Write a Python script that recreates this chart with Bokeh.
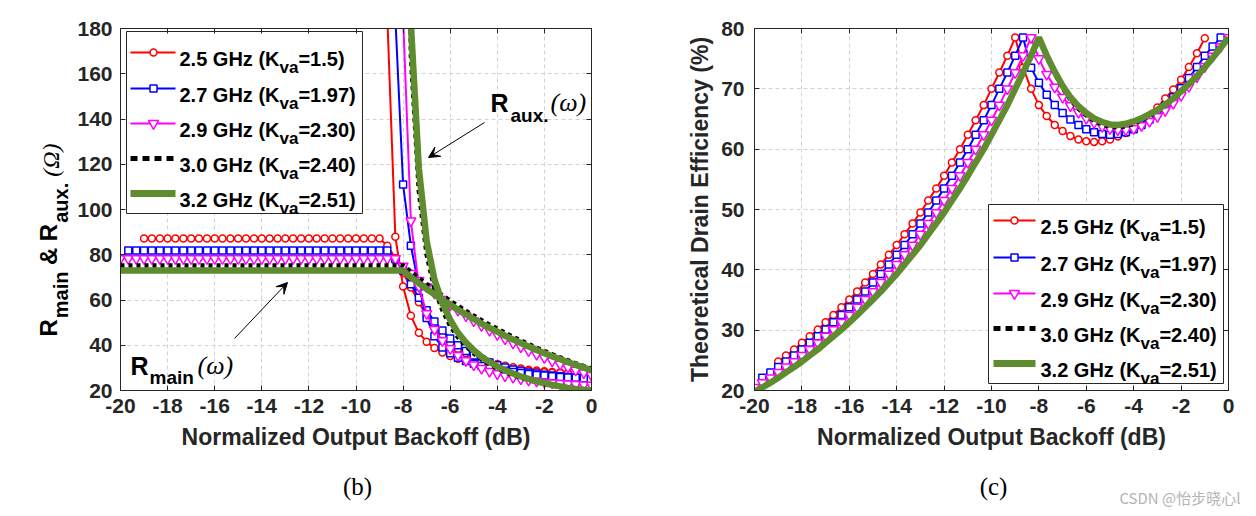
import math
from bokeh.plotting import figure
from bokeh.models import Label, Arrow, VeeHead, LinearAxis, FixedTicker, Range1d
from bokeh.layouts import row, column
from bokeh.embed import file_html
from bokeh.resources import INLINE

nan = float("nan")

# ---------------- data ----------------
X = [-20.0, -19.67, -19.33, -19.0, -18.67, -18.33, -18.0, -17.67, -17.33, -17.0,
     -16.67, -16.33, -16.0, -15.67, -15.33, -15.0, -14.67, -14.33, -14.0, -13.67,
     -13.33, -13.0, -12.67, -12.33, -12.0, -11.67, -11.33, -11.0, -10.67, -10.33,
     -10.0, -9.67, -9.33, -9.0, -8.67, -8.33, -8.0, -7.67, -7.33, -7.0,
     -6.67, -6.33, -6.0, -5.67, -5.33, -5.0, -4.67, -4.33, -4.0, -3.67,
     -3.33, -3.0, -2.67, -2.33, -2.0, -1.67, -1.33, -1.0, -0.67, -0.33, 0.0]

FREQS = ["2.5 GHz", "2.7 GHz", "2.9 GHz", "3.0 GHz", "3.2 GHz"]
KVA = ["1.5", "1.97", "2.30", "2.40", "2.51"]

X_TICKS = [-20, -18, -16, -14, -12, -10, -8, -6, -4, -2, 0]
YB_TICKS = [20, 40, 60, 80, 100, 120, 140, 160, 180]
YC_TICKS = [20, 30, 40, 50, 60, 70, 80]

# (b) R_main and R_aux (Ohm)
RM_25 = [nan, nan, nan,
         87.2, 87.2, 87.2, 87.2, 87.2, 87.2, 87.2, 87.2, 87.2, 87.2,
         87.2, 87.2, 87.2, 87.2, 87.2, 87.2, 87.2, 87.2, 87.2, 87.2,
         87.2, 87.2, 87.2, 87.2, 87.2, 87.2, 87.2, 87.2, 87.2, 87.2, 87.2,
         84.0, 78.5, 72.0, 65.5, 59.0, 53.0, 48.0, 44.0, 41.0, 38.5,
         36.5, 35.0, 33.7, 32.6, 31.7, 30.9, 30.3, 29.7, 29.2, 28.8,
         28.5, 28.2, 28.0, 27.8, nan, nan, nan]
RA_25 = [nan, nan, nan, nan, nan, nan, nan, nan, nan, nan,
         nan, nan, nan, nan, nan, nan, nan, nan, nan, nan,
         nan, nan, nan, nan, nan, nan, nan, nan, nan, nan,
         nan, nan, nan, nan,
         185.0, 88.0, 66.0, 53.0, 45.5, 41.5, 38.8, 36.8, 35.2, 34.0,
         33.0, 32.1, 31.4, 30.8, 30.2, 29.7, 29.3, 28.9, 28.6, 28.3,
         28.1, 27.9, 27.7, 27.5, nan, nan, nan]
RM_27 = [nan,
         81.9, 81.9, 81.9, 81.9, 81.9, 81.9, 81.9, 81.9, 81.9, 81.9,
         81.9, 81.9, 81.9, 81.9, 81.9, 81.9, 81.9, 81.9, 81.9, 81.9,
         81.9, 81.9, 81.9, 81.9, 81.9, 81.9, 81.9, 81.9, 81.9, 81.9,
         81.9, 81.9, 81.9, 81.9,
         78.0, 73.0, 67.0, 61.0, 55.5, 50.5, 46.5, 43.0, 40.0, 37.5,
         35.5, 33.8, 32.4, 31.2, 30.2, 29.3, 28.6, 28.0, 27.5, 27.0,
         26.6, 26.3, 26.0, 25.7, 25.5, nan]
RA_27 = [nan, nan, nan, nan, nan, nan, nan, nan, nan, nan,
         nan, nan, nan, nan, nan, nan, nan, nan, nan, nan,
         nan, nan, nan, nan, nan, nan, nan, nan, nan, nan,
         nan, nan, nan, nan, nan,
         185.0, 111.0, 84.0, 66.0, 52.0, 44.0, 39.0, 36.5, 34.5, 33.0,
         31.8, 30.8, 30.0, 29.3, 28.7, 28.2, 27.7, 27.3, 26.9, 26.6,
         26.3, 26.0, 25.8, 25.6, 25.4, nan]
RM_29 = [78.3, 78.3, 78.3, 78.3, 78.3, 78.3, 78.3, 78.3, 78.3, 78.3,
         78.3, 78.3, 78.3, 78.3, 78.3, 78.3, 78.3, 78.3, 78.3, 78.3,
         78.3, 78.3, 78.3, 78.3, 78.3, 78.3, 78.3, 78.3, 78.3, 78.3,
         78.3, 78.3, 78.3, 78.3, 78.3, 78.3,
         75.0, 71.8, 68.7, 65.8, 63.0, 60.3, 57.8, 55.4, 53.0, 50.8,
         48.7, 46.6, 44.7, 42.8, 41.0, 39.3, 37.6, 36.0, 34.5, 33.0,
         31.6, 30.3, 29.0, 27.8, 26.7]
RA_29 = [nan, nan, nan, nan, nan, nan, nan, nan, nan, nan,
         nan, nan, nan, nan, nan, nan, nan, nan, nan, nan,
         nan, nan, nan, nan, nan, nan, nan, nan, nan, nan,
         nan, nan, nan, nan, nan, nan,
         185.0, 95.0, 66.0, 54.0, 47.0, 42.0, 38.5, 35.5, 33.2, 31.3,
         29.8, 28.5, 27.4, 26.5, 25.8, 25.1, 24.6, 24.1, 23.7, 23.4,
         23.1, 22.9, 22.7, 22.5, 22.4]
RM_30 = [75.3, 75.3, 75.3, 75.3, 75.3, 75.3, 75.3, 75.3, 75.3, 75.3,
         75.3, 75.3, 75.3, 75.3, 75.3, 75.3, 75.3, 75.3, 75.3, 75.3,
         75.3, 75.3, 75.3, 75.3, 75.3, 75.3, 75.3, 75.3, 75.3, 75.3,
         75.3, 75.3, 75.3, 75.3, 75.3, 75.3, 75.3,
         72.5, 69.6, 67.0, 64.5, 62.0, 59.7, 57.4, 55.2, 53.1, 51.1,
         49.1, 47.3, 45.5, 43.7, 42.1, 40.5, 38.9, 37.4, 36.0, 34.6,
         33.3, 32.0, 30.8, 29.7]
RA_30 = [nan, nan, nan, nan, nan, nan, nan, nan, nan, nan,
         nan, nan, nan, nan, nan, nan, nan, nan, nan, nan,
         nan, nan, nan, nan, nan, nan, nan, nan, nan, nan,
         nan, nan, nan, nan, nan, nan,
         600.0, 168.0, 108.0, 80.0, 65.0, 55.5, 48.5, 43.5, 39.6, 36.4,
         33.7, 31.5, 29.7, 28.1, 26.8, 25.6, 24.6, 23.7, 22.9, 22.2,
         21.6, 21.1, 20.7, 20.4, 20.1]
RM_32 = [73.0, 73.0, 73.0, 73.0, 73.0, 73.0, 73.0, 73.0, 73.0, 73.0,
         73.0, 73.0, 73.0, 73.0, 73.0, 73.0, 73.0, 73.0, 73.0, 73.0,
         73.0, 73.0, 73.0, 73.0, 73.0, 73.0, 73.0, 73.0, 73.0, 73.0,
         73.0, 73.0, 73.0, 73.0, 73.0, 73.0, 73.0,
         70.1, 67.4, 64.9, 62.5, 60.1, 57.9, 55.7, 53.6, 51.6, 49.6,
         47.7, 46.0, 44.2, 42.5, 41.0, 39.4, 37.9, 36.5, 35.1, 33.8,
         32.5, 31.3, 30.1, 29.0]
RA_32 = [nan, nan, nan, nan, nan, nan, nan, nan, nan, nan,
         nan, nan, nan, nan, nan, nan, nan, nan, nan, nan,
         nan, nan, nan, nan, nan, nan, nan, nan, nan, nan,
         nan, nan, nan, nan, nan, nan, nan,
         182.0, 118.0, 86.0, 69.0, 58.5, 51.2, 45.5, 41.2, 37.8, 34.9,
         32.6, 30.7, 28.9, 27.5, 26.2, 25.1, 24.1, 23.3, 22.5, 21.8,
         21.1, 20.7, 20.3, 20.0]

# (c) theoretical drain efficiency (%)
EFF_25 = [nan, nan, nan,
          24.8, 25.8, 26.8, 27.9, 29.0, 30.1, 31.3, 32.5, 33.8, 35.1,
          36.4, 37.9, 39.3, 40.9, 42.5, 44.1, 45.9, 47.7, 49.5, 51.5,
          53.5, 55.6, 57.8, 60.0, 62.4, 64.8, 67.3, 70.0, 72.7, 75.5,
          78.5,
          73.5, 70.0, 67.3, 65.5, 64.0, 63.0, 62.2, 61.6, 61.3, 61.2,
          61.3, 61.6, 62.1, 62.7, 63.4, 64.3, 65.5, 66.9, 68.4, 69.9,
          71.5, 73.6, 75.9, 78.4, nan, nan, nan]
EFF_27 = [nan,
          22.1, 23.0, 23.9, 24.8, 25.8, 26.8, 27.9, 29.0, 30.1, 31.3,
          32.5, 33.8, 35.1, 36.4, 37.9, 39.3, 40.9, 42.5, 44.1, 45.9,
          47.7, 49.5, 51.5, 53.5, 55.6, 57.8, 60.0, 62.4, 64.8, 67.3,
          70.0, 72.7, 75.5, 78.5,
          73.5, 71.0, 69.0, 67.3, 66.0, 64.9, 64.0, 63.3, 62.8, 62.5,
          62.4, 62.5, 62.8, 63.3, 64.0, 64.9, 66.0, 67.2, 68.6, 70.1,
          71.8, 73.6, 75.5, 77.0, 78.5, nan]
EFF_29 = [20.5, 21.3, 22.1, 23.0, 23.9, 24.8, 25.8, 26.8, 27.9, 29.0,
          30.1, 31.3, 32.5, 33.8, 35.1, 36.4, 37.9, 39.3, 40.9, 42.5,
          44.1, 45.9, 47.7, 49.5, 51.5, 53.5, 55.6, 57.8, 60.0, 62.4,
          64.8, 67.3, 70.0, 72.7, 75.5, 78.5,
          75.0, 72.4, 70.3, 68.6, 67.2, 66.1, 65.1, 64.4, 63.8, 63.4,
          63.2, 63.2, 63.4, 63.9, 64.6, 65.4, 66.4, 67.6, 68.9, 70.4,
          72.0, 73.7, 75.4, 77.0, 78.5]
EFF_30 = [19.8, 20.5, 21.3, 22.1, 23.0, 23.9, 24.8, 25.8, 26.8, 27.9,
          29.0, 30.1, 31.3, 32.5, 33.8, 35.1, 36.4, 37.9, 39.3, 40.9,
          42.5, 44.1, 45.9, 47.7, 49.5, 51.5, 53.5, 55.6, 57.8, 60.0,
          62.4, 64.8, 67.3, 70.0, 72.7, 75.5, 78.5,
          75.3, 72.5, 70.1, 68.2, 66.7, 65.6, 64.7, 64.1, 63.7, 63.6,
          63.8, 64.2, 64.8, 65.5, 66.3, 67.2, 68.3, 69.4, 70.7, 72.0,
          73.5, 75.0, 76.7, 78.5]
EFF_32 = [19.8, 20.5, 21.3, 22.1, 23.0, 23.9, 24.8, 25.8, 26.8, 27.9,
          29.0, 30.1, 31.3, 32.5, 33.8, 35.1, 36.4, 37.9, 39.3, 40.9,
          42.5, 44.1, 45.9, 47.7, 49.5, 51.5, 53.5, 55.6, 57.8, 60.0,
          62.4, 64.8, 67.3, 70.0, 72.7, 75.5, 78.5,
          75.5, 72.8, 70.5, 68.6, 67.1, 66.0, 65.1, 64.5, 64.1, 64.0,
          64.2, 64.6, 65.1, 65.8, 66.5, 67.4, 68.4, 69.6, 70.8, 72.1,
          73.6, 75.1, 76.8, 78.5]

R_MAIN = [RM_25, RM_27, RM_29, RM_30, RM_32]
R_AUX = [RA_25, RA_27, RA_29, RA_30, RA_32]
EFF = [EFF_25, EFF_27, EFF_29, EFF_30, EFF_32]

# ---------------- style ----------------
INK = "#262626"
FONT = "Liberation Sans"
SERIF = "Liberation Serif"
GREEN = "#5E8C2E"

STYLES = [
    dict(color="#FF0000", width=2, dash="solid", marker="circle", msize=7),
    dict(color="#0000FF", width=2, dash="solid", marker="square", msize=7),
    dict(color="#FF00FF", width=2, dash="solid", marker="inverted_triangle", msize=10),
    dict(color="#000000", width=4.5, dash="4 4", marker=None, msize=0),
    dict(color=GREEN, width=6.5, dash="solid", marker=None, msize=0),
]

ARIAL_BOLD = {" ": 278, ".": 278, "(": 333, ")": 333, "=": 584, "G": 778,
              "H": 722, "K": 722, "z": 500, "v": 556, "a": 556, "m": 889,
              "i": 278, "n": 611, "u": 611, "x": 556, "R": 722, "&": 722}


def text_w(s, size):
    return sum(ARIAL_BOLD.get(c, 556) for c in s) * size / 1000.0


ROW_H = 460
PB = dict(x0=118, y0=28, w=471, h=362, xr=(-20, 0), yr=(20, 180))
PC = dict(x0=752, y0=28, w=474, h=362, xr=(-20, 0), yr=(20, 80))


def dx(P, px):
    return P["xr"][0] + (px - P["x0"]) * (P["xr"][1] - P["xr"][0]) / P["w"]


def dy(P, py):
    return P["yr"][1] - (py - P["y0"]) * (P["yr"][1] - P["yr"][0]) / P["h"]


def lab(p, x, y, text, size, font=FONT, style="bold", align="left",
        baseline="alphabetic", angle=0.0, color="black"):
    p.add_layout(Label(x=x, y=y, text=text, text_font=font, text_font_style=style,
                       text_font_size=f"{size}px", text_align=align,
                       text_baseline=baseline, angle=angle, text_color=color))


def blank_fig(x0, x1, y0, y1):
    # a bare canvas whose data units are page pixels (y grows downward)
    p = figure(frame_width=x1 - x0, frame_height=y1 - y0,
               x_range=Range1d(x0, x1), y_range=Range1d(y1, y0),
               min_border=0, x_axis_type=None, y_axis_type=None,
               output_backend="svg", toolbar_location=None,
               background_fill_color="white", border_fill_color="white")
    p.outline_line_color = None
    return p


def make_fig(P, left, right, yticks, ylabel):
    p = figure(frame_width=P["w"], frame_height=P["h"],
               x_range=Range1d(*P["xr"]), y_range=Range1d(*P["yr"]),
               min_border_left=left, min_border_right=right,
               min_border_top=P["y0"], min_border_bottom=ROW_H - P["y0"] - P["h"],
               output_backend="svg", toolbar_location=None,
               background_fill_color="white", border_fill_color="white")
    p.outline_line_color = INK
    p.outline_line_width = 1
    p.xaxis.ticker = FixedTicker(ticks=X_TICKS)
    p.yaxis.ticker = FixedTicker(ticks=yticks)
    p.xaxis.major_label_overrides = {t: str(t) for t in X_TICKS}
    p.yaxis.major_label_overrides = {t: str(t) for t in yticks}
    p.axis.axis_line_color = INK
    p.axis.major_tick_line_color = INK
    p.axis.major_tick_in = 5
    p.axis.major_tick_out = 0
    p.axis.minor_tick_line_color = None
    p.axis.major_label_text_font = FONT
    p.axis.major_label_text_font_style = "bold"
    p.axis.major_label_text_font_size = "21px"
    p.axis.major_label_text_color = INK
    p.axis.axis_label_text_font = FONT
    p.axis.axis_label_text_font_style = "bold"
    p.axis.axis_label_text_font_size = "23px"
    p.axis.axis_label_text_color = INK
    p.xaxis.major_label_standoff = 8
    p.xaxis.axis_label = "Normalized Output Backoff (dB)"
    p.xaxis.axis_label_standoff = 8
    p.yaxis.major_label_standoff = 8 if ylabel is None else 10
    if ylabel:
        p.yaxis.axis_label = ylabel
        p.yaxis.axis_label_standoff = 5
    p.grid.grid_line_color = "#d2d2d2"
    p.grid.grid_line_dash = "4 3"
    p.grid.grid_line_width = 1
    for loc, tk in (("above", X_TICKS), ("right", yticks)):
        ax = LinearAxis(ticker=FixedTicker(ticks=tk), major_tick_in=5, major_tick_out=0,
                        minor_tick_line_color=None, axis_line_color=INK,
                        major_tick_line_color=INK, major_label_text_font_size="0px",
                        major_label_text_color=None, major_label_standoff=0)
        p.add_layout(ax, loc)
    return p


def draw_series(p, ys, st):
    p.line(X, ys, line_color=st["color"], line_width=st["width"], line_dash=st["dash"])
    if st["marker"]:
        p.scatter(X, ys, marker=st["marker"], size=st["msize"], line_color=st["color"],
                  fill_color="white", line_width=1.5)


def draw_legend(p, P, box, rows, line_px, mark_px, text_px, size, sub_size):
    x0, x1, yt, yb = dx(P, box[0]), dx(P, box[1]), dy(P, box[2]), dy(P, box[3])
    p.quad(left=[x0], right=[x1], top=[yt], bottom=[yb], fill_color="white",
           line_color=INK, line_width=1)
    xpu = P["w"] / (P["xr"][1] - P["xr"][0])
    for f, k, st, rpx in zip(FREQS, KVA, STYLES, rows):
        ry = dy(P, rpx)
        lw = st["width"] if st["marker"] else st["width"] + 0.5
        dash = "7 5" if st["dash"] != "solid" else "solid"
        p.line([dx(P, line_px[0]), dx(P, line_px[1])], [ry, ry], line_color=st["color"],
               line_width=lw, line_dash=dash)
        if st["marker"]:
            p.scatter([dx(P, mark_px)], [ry], marker=st["marker"], size=st["msize"],
                      line_color=st["color"], fill_color="white", line_width=1.5)
        tx = dx(P, text_px)
        main = f"{f} (K"
        lab(p, tx, dy(P, rpx + 6), main, size)
        w1 = text_w(main, size) / xpu
        lab(p, tx + w1, dy(P, rpx + 15), "va", sub_size)
        w2 = text_w("va", sub_size) / xpu
        lab(p, tx + w1 + w2, dy(P, rpx + 6), f"={k})", size)


# ---------------- y label strip for panel (b) ----------------
LAB_W = 74
ylab = blank_fig(0, LAB_W, 0, ROW_H)
half_pi = math.pi / 2
BIG, SUB = 24, 20
yy = 308.0
for txt, size, xb, gap in (("R", BIG, 48, 1.0), ("main", SUB, 60, 6.5), ("&", BIG, 48, 6.5),
                           ("R", BIG, 48, 1.0), ("aux.", SUB, 60, 6.0)):
    lab(ylab, xb, yy, txt, size, angle=half_pi)
    yy -= text_w(txt, size) + gap
lab(ylab, 50, yy, "(\u03a9)", BIG, font=SERIF, style="italic", angle=half_pi)

# ---------------- panel (b) ----------------
pb = make_fig(PB, PB["x0"] - LAB_W, 40, YB_TICKS, None)
for rm, ra, st in zip(R_MAIN, R_AUX, STYLES):
    draw_series(pb, rm, st)
    draw_series(pb, ra, st)
draw_legend(pb, PB, (124, 360, 31, 213), [52, 88, 123, 158, 193], (128, 173), 151, 177, 20, 17)

lab(pb, dx(PB, 488), dy(PB, 102), "R", 25)
lab(pb, dx(PB, 508), dy(PB, 115), "aux.", 19)
lab(pb, dx(PB, 548), dy(PB, 102), "(\u03c9)", 26, font=SERIF, style="italic")
lab(pb, dx(PB, 128), dy(PB, 365), "R", 25)
lab(pb, dx(PB, 147), dy(PB, 377), "main", 19)
lab(pb, dx(PB, 195), dy(PB, 365), "(\u03c9)", 26, font=SERIF, style="italic")
pb.add_layout(Arrow(end=VeeHead(size=11, fill_color="black", line_color="black", line_width=1),
                    x_start=dx(PB, 482), y_start=dy(PB, 122), x_end=dx(PB, 426), y_end=dy(PB, 157),
                    line_color="black", line_width=1))
pb.add_layout(Arrow(end=VeeHead(size=11, fill_color="black", line_color="black", line_width=1),
                    x_start=dx(PB, 232), y_start=dy(PB, 338), x_end=dx(PB, 285), y_end=dy(PB, 282),
                    line_color="black", line_width=1))

# ---------------- panel (c) ----------------
PB_RIGHT_END = PB["x0"] + PB["w"] + 40
pc = make_fig(PC, PC["x0"] - PB_RIGHT_END, 22, YC_TICKS, "Theoretical Drain Efficiency (%)")
for ys, st in zip(EFF, STYLES):
    draw_series(pc, ys, st)
draw_legend(pc, PC, (986, 1221, 204, 383), [220, 257, 293, 328, 363], (991, 1033), 1012, 1038, 20, 17)

# ---------------- caption strip ----------------
cap = blank_fig(0, 1248, ROW_H, 512)
lab(cap, 357, 486, "(b)", 25, font=SERIF, style="normal", align="center", baseline="middle")
lab(cap, 993, 486, "(c)", 25, font=SERIF, style="normal", align="center", baseline="middle")
lab(cap, 1240, 497, "CSDN @\u6021\u6b65\u6653\u5fc3l", 15, font="Noto Sans CJK SC",
    style="normal", align="right", baseline="middle", color="#b4b4b4")

layout = column(row(ylab, pb, pc), cap)
open("out.html", "w").write(file_html(layout, INLINE))
